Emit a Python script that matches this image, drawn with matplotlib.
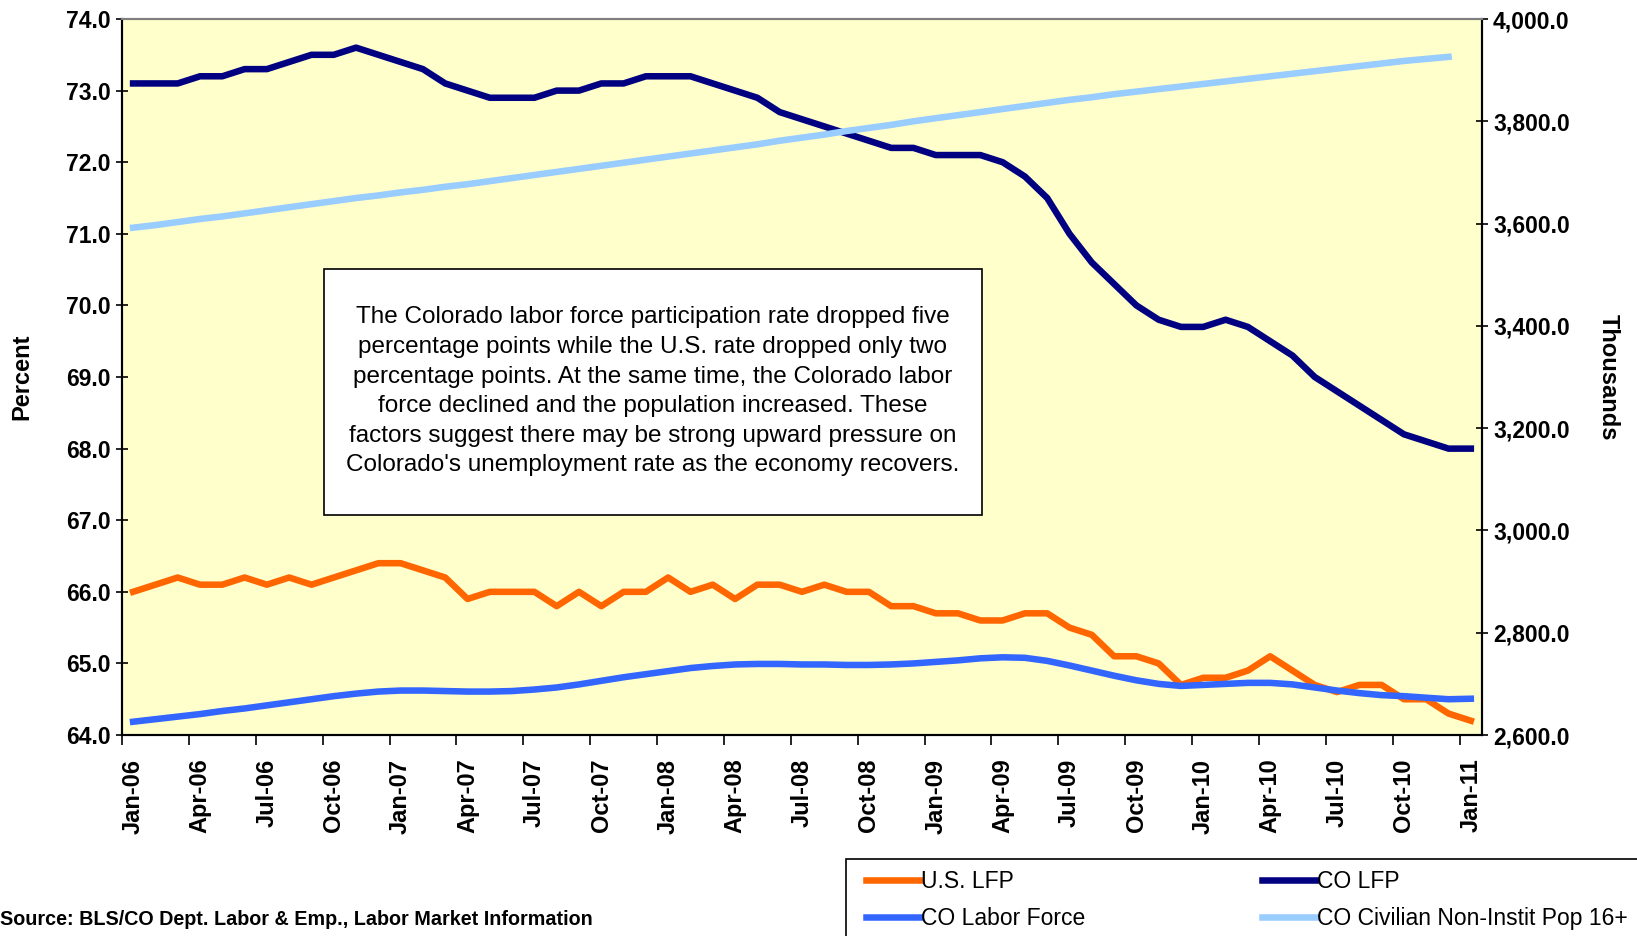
import numpy as np
import matplotlib.pyplot as plt
from matplotlib.patches import Rectangle

plt.rcParams['font.family'] = ['Liberation Sans', 'DejaVu Sans']

months = ['Jan', 'Feb', 'Mar', 'Apr', 'May', 'Jun', 'Jul', 'Aug', 'Sep', 'Oct', 'Nov', 'Dec']
dates = [f'{m}-{y:02d}' for y in range(6, 11) for m in months] + ['Jan-11']

# left axis, percent
us_lfp = [66.0, 66.1, 66.2, 66.1, 66.1, 66.2, 66.1, 66.2, 66.1, 66.2, 66.3, 66.4,
          66.4, 66.3, 66.2, 65.9, 66.0, 66.0, 66.0, 65.8, 66.0, 65.8, 66.0, 66.0,
          66.2, 66.0, 66.1, 65.9, 66.1, 66.1, 66.0, 66.1, 66.0, 66.0, 65.8, 65.8,
          65.7, 65.7, 65.6, 65.6, 65.7, 65.7, 65.5, 65.4, 65.1, 65.1, 65.0, 64.7,
          64.8, 64.8, 64.9, 65.1, 64.9, 64.7, 64.6, 64.7, 64.7, 64.5, 64.5, 64.3,
          64.2]
co_lfp = [73.1, 73.1, 73.1, 73.2, 73.2, 73.3, 73.3, 73.4, 73.5, 73.5, 73.6, 73.5,
          73.4, 73.3, 73.1, 73.0, 72.9, 72.9, 72.9, 73.0, 73.0, 73.1, 73.1, 73.2,
          73.2, 73.2, 73.1, 73.0, 72.9, 72.7, 72.6, 72.5, 72.4, 72.3, 72.2, 72.2,
          72.1, 72.1, 72.1, 72.0, 71.8, 71.5, 71.0, 70.6, 70.3, 70.0, 69.8, 69.7,
          69.7, 69.8, 69.7, 69.5, 69.3, 69.0, 68.8, 68.6, 68.4, 68.2, 68.1, 68.0,
          68.0]

# right axis, thousands
co_labor_force = [2626, 2631, 2636, 2641, 2647, 2652, 2658, 2664, 2670, 2676, 2681, 2685,
                  2687, 2687, 2686, 2685, 2685, 2686, 2689, 2693, 2699, 2706, 2713, 2719,
                  2725, 2731, 2735, 2738, 2739, 2739, 2738, 2738, 2737, 2737, 2738, 2740,
                  2743, 2746, 2750, 2752, 2751, 2745, 2736, 2726, 2716, 2707, 2700, 2696,
                  2698, 2700, 2702, 2702, 2699, 2693, 2687, 2682, 2678, 2676, 2673, 2670,
                  2671]
co_pop = [3592, 3597, 3603, 3609, 3614, 3620, 3626, 3632, 3638, 3644, 3650, 3655,
          3661, 3666, 3672, 3677, 3683, 3689, 3695, 3701, 3707, 3713, 3719, 3725,
          3731, 3737, 3743, 3749, 3755, 3762, 3768, 3774, 3781, 3787, 3793, 3800,
          3806, 3812, 3818, 3824, 3830, 3836, 3842, 3847, 3853, 3858, 3863, 3868,
          3873, 3878, 3883, 3888, 3893, 3898, 3903, 3908, 3913, 3918, 3922, 3926,
          np.nan]

note = ("The Colorado labor force participation rate dropped five\n"
        "percentage points while the U.S. rate dropped only two\n"
        "percentage points. At the same time, the Colorado labor\n"
        "force declined and the population increased. These\n"
        "factors suggest there may be strong upward pressure on\n"
        "Colorado's unemployment rate as the economy recovers.")

x = np.arange(len(dates))

fig = plt.figure(figsize=(16.37, 9.36), dpi=100)
ax = fig.add_axes([0.0745, 0.2147, 0.8308, 0.765])
ax.set_facecolor('#FFFFCC')
ax2 = ax.twinx()

lw = 4.7
h_us, = ax.plot(x, us_lfp, color='#FF6600', lw=lw, label='U.S. LFP')
h_co, = ax.plot(x, co_lfp, color='#000080', lw=lw, label='CO LFP')
h_lf, = ax2.plot(x, co_labor_force, color='#3366FF', lw=lw, label='CO Labor Force')
h_pop, = ax2.plot(x, co_pop, color='#99CCFF', lw=lw, label='CO Civilian Non-Instit Pop 16+')

ax.set_xlim(-0.5, len(dates) - 0.5)
ax.set_ylim(64, 74)
ax2.set_ylim(2600, 4000)
ax.set_yticks(np.arange(64, 75, 1))
ax.set_yticklabels([f'{v:.1f}' for v in np.arange(64, 75, 1)])
ax2.set_yticks(np.arange(2600, 4001, 200))
ax2.set_yticklabels([f'{v:,.1f}' for v in np.arange(2600, 4001, 200)])

# category axis: ticks between categories, labels every third month
ax.set_xticks(np.arange(-0.5, len(dates), 3))
ax.set_xticklabels([])
ax.set_xticks(x[::3], minor=True)
ax.set_xticklabels(dates[::3], minor=True, rotation=90, fontsize=17, fontweight='bold')
ax.tick_params(axis='x', which='minor', length=0, pad=17)
ax.tick_params(axis='x', which='major', length=7, width=1.2, direction='out')

for a in (ax, ax2):
    a.tick_params(axis='y', direction='inout', length=9, width=1.2, labelsize=16.5)
    for lab in a.get_yticklabels():
        lab.set_fontweight('bold')
    for s in a.spines.values():
        s.set_linewidth(1.5)
    a.spines['top'].set_color('#808080')

ax.set_ylabel('Percent', fontsize=17, fontweight='bold', va='center')
ax.yaxis.set_label_coords(-0.0735, 0.5)
ax2.set_ylabel('Thousands', fontsize=17, fontweight='bold', rotation=270, va='center')
ax2.yaxis.set_label_coords(1.0926, 0.5)

# annotation box
ax2.add_patch(Rectangle((0.1485, 0.3073), 0.4839, 0.3435, transform=ax.transAxes,
                        facecolor='white', edgecolor='black', lw=1.2, zorder=9))
ax2.text(0.3904, 0.480, note, transform=ax.transAxes, ha='center', va='center',
         fontsize=17.5, linespacing=1.45, zorder=10)

fig.text(0.0, 0.018, 'Source: BLS/CO Dept. Labor & Emp., Labor Market Information',
         fontsize=14.2, fontweight='bold', ha='left', va='center')

fig.patches.append(Rectangle((0.5168, -0.01), 0.5, 0.0923, transform=fig.transFigure,
                             facecolor='white', edgecolor='black', lw=1.2))
leg = fig.legend([h_us, h_lf, h_co, h_pop],
                 [h.get_label() for h in (h_us, h_lf, h_co, h_pop)],
                 ncol=2, loc='upper left', bbox_to_anchor=(0.5218, 0.0823),
                 fontsize=16.5, frameon=False,
                 handlelength=2.36, handletextpad=0.05,
                 columnspacing=7.7, borderaxespad=0, labelspacing=0.6, borderpad=0.5)

fig.savefig('out.png', dpi=100)
